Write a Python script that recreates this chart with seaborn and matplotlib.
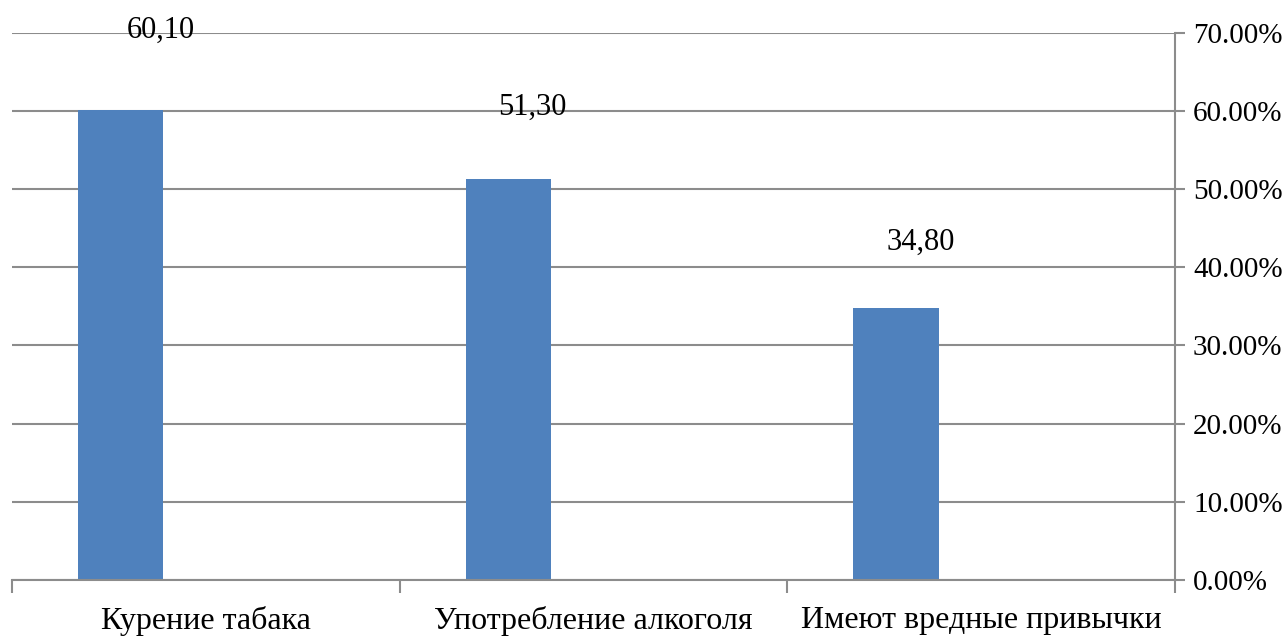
import matplotlib
matplotlib.use("Agg")
import matplotlib.pyplot as plt
import seaborn as sns
import pandas as pd
from matplotlib.ticker import FuncFormatter, FixedLocator

categories = ["Курение табака", "Употребление алкоголя", "Имеют вредные привычки"]
values = [60.10, 51.30, 34.80]
label_texts = ["60,10", "51,30", "34,80"]
y_ticks = [0, 10, 20, 30, 40, 50, 60, 70]

# label placement (layout only)
label_dx = [-0.117, -0.157, -0.157]
label_dy = [9.2, 8.2, 7.4]

sns.set_theme(style="white")
plt.rcParams["font.family"] = ["Liberation Serif", "DejaVu Serif"]

df = pd.DataFrame({"cat": categories, "value": values, "series": ["s1"] * 3})

fig = plt.figure(figsize=(12.87, 6.38), dpi=100)
ax = fig.add_axes([12 / 1287, 1 - 580 / 638, (1175 - 12) / 1287, (580 - 32.7) / 638])

sns.barplot(data=df, x="cat", y="value", hue="series", hue_order=["s1", "s2", "s3"],
            order=categories, palette={"s1": "#4F81BD", "s2": "#C0504D", "s3": "#9BBB59"},
            width=0.66, dodge=True, legend=False, ax=ax, saturation=1, errorbar=None,
            linewidth=0, edgecolor="none")

ax.set_xlim(-0.5, 2.5)
ax.set_ylim(0, 70)
ax.set_xlabel("")
ax.set_ylabel("")

grid_c = "#8c8c8c"
ax.yaxis.tick_right()
ax.yaxis.set_major_locator(FixedLocator(y_ticks))
ax.yaxis.set_major_formatter(FuncFormatter(lambda v, p: f"{v:.2f}%"))
ax.tick_params(axis="y", which="major", direction="out", length=7, width=1.5,
               color=grid_c, labelsize=21, pad=6, labelcolor="black")
ax.grid(axis="y", color=grid_c, linewidth=1.5)
ax.set_axisbelow(True)

ax.set_xticks([0, 1, 2])
ax.set_xticklabels(categories)
ax.set_xticks([-0.5, 0.5, 1.5, 2.5], minor=True)
ax.tick_params(axis="x", which="major", length=0, labelsize=23, pad=19, labelcolor="black")
ax.tick_params(axis="x", which="minor", direction="out", length=9.5, width=1.5, color=grid_c)
ax.tick_params(axis="x", which="both", bottom=True)

for s in ["top", "left"]:
    ax.spines[s].set_visible(False)
for s in ["bottom", "right"]:
    ax.spines[s].set_visible(True)
    ax.spines[s].set_color(grid_c)
    ax.spines[s].set_linewidth(1.5)

for i, (v, t) in enumerate(zip(values, label_texts)):
    ax.text(i + label_dx[i], v + label_dy[i], t, ha="center", va="baseline",
            fontsize=22, color="black", clip_on=False)

fig.savefig("out.png", dpi=100, facecolor="white")
